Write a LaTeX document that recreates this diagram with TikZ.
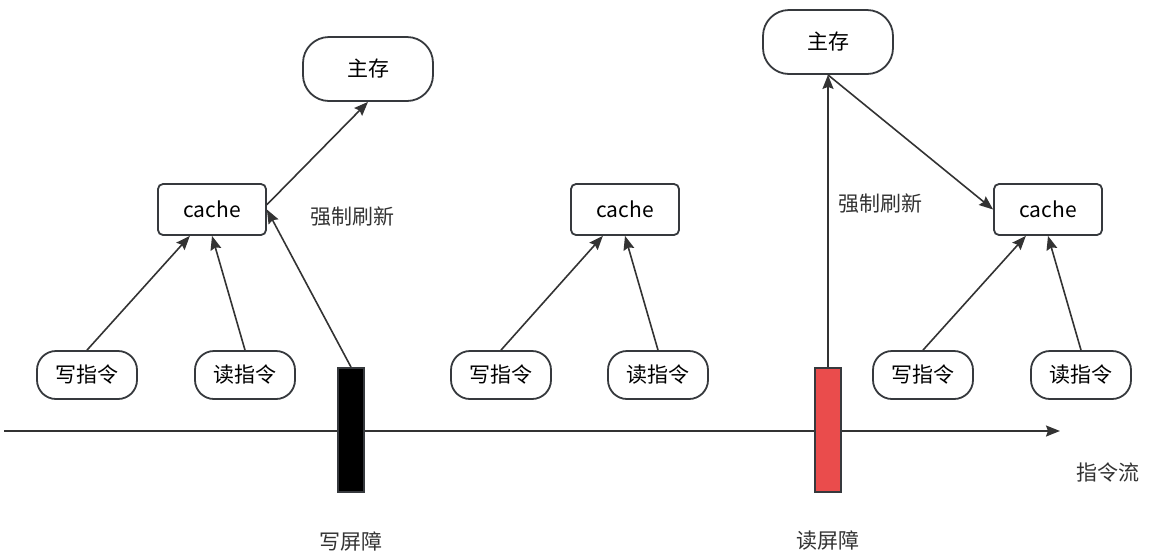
\documentclass[tikz,border=0pt]{standalone}
\usepackage{fontspec}
\newfontfamily\cjk{Noto Sans CJK SC}
\usepackage{tikz}
\usetikzlibrary{arrows.meta}
\definecolor{linegray}{RGB}{51,51,51}
\definecolor{boxgray}{RGB}{54,57,61}
\definecolor{barred}{RGB}{234,76,76}

\begin{document}
\begin{tikzpicture}[
   x=1pt,y=-1pt,
   font=\cjk\fontsize{21}{25}\selectfont,
   mem/.style={draw=boxgray,line width=1.8pt,rounded corners=26pt,minimum width=130pt,minimum height=64pt,inner sep=0pt},
   cachebox/.style={draw=boxgray,line width=1.8pt,rounded corners=5pt,minimum width=108pt,minimum height=51pt,inner sep=0pt},
   instr/.style={draw=boxgray,line width=1.8pt,rounded corners=19pt,minimum width=100pt,minimum height=48pt,inner sep=0pt},
   barrier/.style={draw=boxgray,line width=1.8pt,minimum width=26pt,minimum height=124pt,inner sep=0pt},
   to/.style={-{Stealth[length=14pt,width=11pt,inset=2pt]},line width=1.6pt,draw=linegray},
   label/.style={text=linegray,inner sep=0pt}]
\useasboundingbox (0,0) rectangle (1152,558);
% instruction stream
\coordinate (S0) at (4,431);
\coordinate (S1) at (1060,431);
\draw[to] (S0) -- (S1);
\node[label] (flow) at (1108,473) {指令流};
% write barrier part
\node[mem] (M1) at (368,69) {主存};
\node[cachebox] (C1) at (212,209.5) {cache};
\node[instr] (W1) at (87,375) {写指令};
\node[instr] (R1) at (245,375) {读指令};
\node[barrier,fill=black] (B1) at (351,430) {};
\node[label] (F1) at (352,217) {强制刷新};
\node[label] (L1) at (351,541) {写屏障};
\draw[to] (W1.north) -- (C1.230);
\draw[to] (R1.north) -- (C1.south);
\draw[to] (B1.north) -- (C1.east);
\draw[to] (C1.5) -- (M1.south);
% plain part
\node[cachebox] (C2) at (625,209.5) {cache};
\node[instr] (W2) at (501,375) {写指令};
\node[instr] (R2) at (658,375) {读指令};
\draw[to] (W2.north) -- (C2.230);
\draw[to] (R2.north) -- (C2.south);
% read barrier part
\node[mem] (M2) at (828,42) {主存};
\node[cachebox] (C3) at (1048,209.5) {cache};
\node[instr] (W3) at (923,375) {写指令};
\node[instr] (R3) at (1081,375) {读指令};
\node[barrier,fill=barred] (B2) at (828,430) {};
\node[label] (F2) at (880,204) {强制刷新};
\node[label] (L2) at (828,541) {读屏障};
\draw[to] (B2.north) -- (M2.south);
\draw[to] (M2.south) -- (C3.west);
\draw[to] (W3.north) -- (C3.230);
\draw[to] (R3.north) -- (C3.south);
\end{tikzpicture}
\end{document}
